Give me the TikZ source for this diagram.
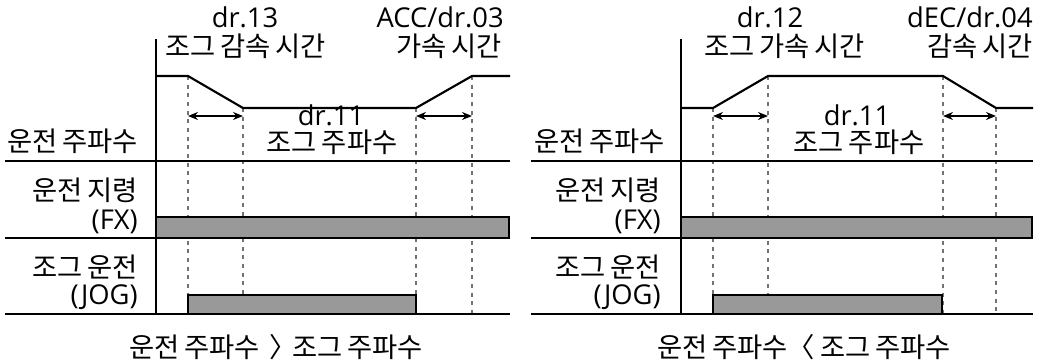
\documentclass[tikz,border=0pt]{standalone}
\usepackage{fontspec}
\setmainfont{Open Sans}
\newfontfamily\kr[WordSpace=0.8]{Noto Sans CJK KR}
\usetikzlibrary{arrows.meta}
\begin{document}
\begin{tikzpicture}[x=0.75pt,y=-0.75pt,
  axis/.style={line width=2pt},
  sig/.style={line width=1.6pt, line join=miter},
  guide/.style={line width=0.9pt, black!55, dash pattern=on 3pt off 3.5pt},
  bar/.style={draw=black, fill=black!40, line width=1.5pt},
  dim/.style={line width=1.2pt, {Stealth[length=7.5pt,width=6pt]}-{Stealth[length=7.5pt,width=6pt]}},
  lat/.style={font=\fontsize{20.5}{23}\selectfont, inner sep=0pt},
  kor/.style={font=\kr\fontsize{20.5}{23}\selectfont, inner sep=0pt},
  low/.style={text height=0.72em}]
\useasboundingbox (0,0) rectangle (1037,362);

% ---------------- left panel ----------------
\coordinate (La0) at (156,76);
\coordinate (La1) at (188,76);
\coordinate (La2) at (243,108);
\coordinate (La3) at (416,108);
\coordinate (La4) at (472,76);
\coordinate (La5) at (510,76);
\coordinate (LT) at (156,39);
\coordinate (LB) at (156,314);
\coordinate (Lh1a) at (5,161);  \coordinate (Lh1b) at (510,161);
\coordinate (Lh2a) at (5,238);  \coordinate (Lh2b) at (510,238);
\coordinate (Lh3a) at (5,314);  \coordinate (Lh3b) at (510,314);

\foreach \p in {La1,La2,La3,La4}
  \draw[guide] (\p) -- (\p |- LB);

\draw[bar] (156,217) rectangle (509,238);
\draw[bar] (188,295) rectangle (416,314);

\draw[sig] (La0) -- (La1) -- (La2) -- (La3) -- (La4) -- (La5);
\draw[axis] (LT) -- (LB);
\draw[axis] (Lh1a) -- (Lh1b);
\draw[axis] (Lh2a) -- (Lh2b);
\draw[axis] (Lh3a) -- (Lh3b);

\coordinate (Ld1) at (188,116); \coordinate (Ld2) at (243,116);
\coordinate (Ld3) at (416,116); \coordinate (Ld4) at (472,116);
\draw[dim] (Ld1) -- (Ld2);
\draw[dim] (Ld3) -- (Ld4);

\node[lat,anchor=base] (Ldr13) at (245,27) {dr.13};
\node[kor,anchor=base west] (Ljd) at (165,56) {조그 감속 시간};
\node[lat,anchor=base east] (Lacc) at (504,27) {ACC/dr.03};
\node[kor,anchor=base east] (Lat) at (502,56) {가속 시간};
\node[lat,anchor=base] (Ldr11) at (331,125) {dr.11};
\node[kor,low,anchor=base] (Ljf) at (332,152) {조그 주파수};
\node[kor,anchor=base west] (Lrf) at (7,151) {운전 주파수};
\node[kor,anchor=base east] (Lrc) at (138,200) {운전 지령};
\node[lat,anchor=base east] (Lfx) at (138,229) {(FX)};
\node[kor,anchor=base east] (Ljr) at (138,277) {조그 운전};
\node[lat,anchor=base east] (Ljog) at (138,304) {(JOG)};
\node[kor,anchor=base] (Lcap) at (276,357) {운전 주파수 \hspace{3.4pt}〉\hspace{-3.4pt}조그 주파수};

% ---------------- right panel ----------------
\coordinate (Ra0) at (681,108);
\coordinate (Ra1) at (713,108);
\coordinate (Ra2) at (768,76);
\coordinate (Ra3) at (943,76);
\coordinate (Ra4) at (996,108);
\coordinate (Ra5) at (1033,108);
\coordinate (RT) at (681,39);
\coordinate (RB) at (681,314);
\coordinate (Rh1a) at (531,161);  \coordinate (Rh1b) at (1033,161);
\coordinate (Rh2a) at (531,238);  \coordinate (Rh2b) at (1033,238);
\coordinate (Rh3a) at (531,314);  \coordinate (Rh3b) at (1033,314);

\foreach \p in {Ra1,Ra2,Ra3,Ra4}
  \draw[guide] (\p) -- (\p |- RB);

\draw[bar] (681,217) rectangle (1032,238);
\draw[bar] (713,295) rectangle (942,314);

\draw[sig] (Ra0) -- (Ra1) -- (Ra2) -- (Ra3) -- (Ra4) -- (Ra5);
\draw[axis] (RT) -- (RB);
\draw[axis] (Rh1a) -- (Rh1b);
\draw[axis] (Rh2a) -- (Rh2b);
\draw[axis] (Rh3a) -- (Rh3b);

\coordinate (Rd1) at (713,116); \coordinate (Rd2) at (768,116);
\coordinate (Rd3) at (943,116); \coordinate (Rd4) at (996,116);
\draw[dim] (Rd1) -- (Rd2);
\draw[dim] (Rd3) -- (Rd4);

\node[lat,anchor=base] (Rdr12) at (770,27) {dr.12};
\node[kor,anchor=base west] (Rja) at (704,56) {조그 가속 시간};
\node[lat,anchor=base east] (Rdec) at (1033,27) {dEC/dr.04};
\node[kor,anchor=base east] (Rdt) at (1033,56) {감속 시간};
\node[lat,anchor=base] (Rdr11) at (857,125) {dr.11};
\node[kor,low,anchor=base] (Rjf) at (859,152) {조그 주파수};
\node[kor,anchor=base west] (Rrf) at (534,151) {운전 주파수};
\node[kor,anchor=base east] (Rrc) at (661,200) {운전 지령};
\node[lat,anchor=base east] (Rfx) at (661,229) {(FX)};
\node[kor,anchor=base east] (Rjr) at (661,277) {조그 운전};
\node[lat,anchor=base east] (Rjog) at (661,304) {(JOG)};
\node[kor,anchor=base] (Rcap) at (804,357) {운전 주파수〈 조그 주파수};
\end{tikzpicture}
\end{document}
